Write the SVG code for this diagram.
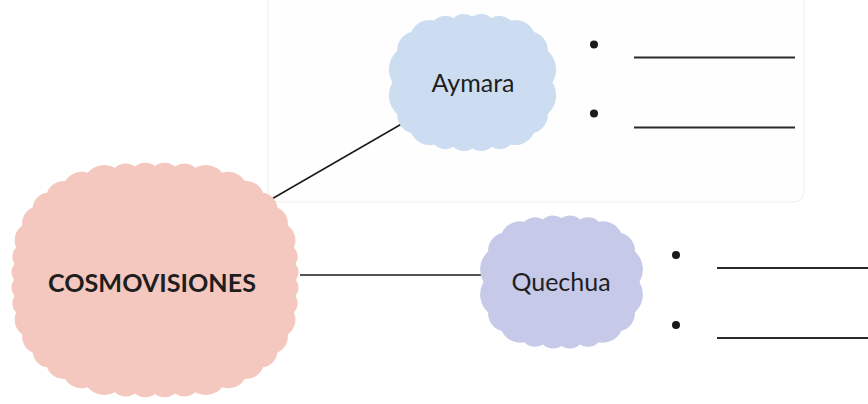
<svg xmlns="http://www.w3.org/2000/svg" width="868" height="404" viewBox="0 0 868 404">
<style>
.conn{stroke:#1a1a1a;stroke-width:1.5;fill:none}
.ul{stroke:#2a2a2a;stroke-width:1.8}
.dot{fill:#1a1a1a}
.lbl{font-family:Lato,"Open Sans",sans-serif;font-size:25px;fill:#1e1e1e;text-anchor:middle}
.main{font-family:Lato,"Open Sans",sans-serif;font-size:25px;font-weight:bold;fill:#1e1e1e;text-anchor:middle}
</style>
<rect x="0" y="0" width="868" height="404" fill="#ffffff"/>
<rect id="frame" x="268" y="-10" width="536" height="212" rx="10" fill="#fefefe" stroke="#f0f0f0" stroke-width="1"/>
<g id="connectors">
<line class="conn" x1="270" y1="200" x2="405" y2="122"/>
<line class="conn" x1="300" y1="275" x2="486" y2="275"/>
</g>
<g id="cosmovisiones">
<path fill="#F4C8BE" d="M296,280 A13,13 0 0 1 295.5,296 A13,13 0 0 1 293.9,312.4 A18,18 0 0 1 287.7,334.4 A17,17 0 0 1 277.3,352.5 A16.5,16.5 0 0 1 263,367.3 A17.5,17.5 0 0 1 244.7,378.9 A19,19 0 0 1 222.3,387.3 A22,22 0 0 1 195.1,392.3 A16,16 0 0 1 175,393.5 A16,16 0 0 1 155,394 A16,16 0 0 1 135,393.5 A16,16 0 0 1 114.9,392.3 A22,22 0 0 1 87.7,387.3 A19,19 0 0 1 65.3,378.9 A17.5,17.5 0 0 1 47,367.3 A16.5,16.5 0 0 1 32.7,352.5 A17,17 0 0 1 22.3,334.4 A18,18 0 0 1 16.1,312.4 A13,13 0 0 1 14.5,296 A13,13 0 0 1 14,280 A13,13 0 0 1 14.5,264 A13,13 0 0 1 16.1,247.6 A18,18 0 0 1 22.3,225.6 A17,17 0 0 1 32.7,207.5 A16.5,16.5 0 0 1 47,192.7 A17.5,17.5 0 0 1 65.3,181.1 A19,19 0 0 1 87.7,172.7 A22,22 0 0 1 114.9,167.7 A16,16 0 0 1 135,166.5 A16,16 0 0 1 155,166 A16,16 0 0 1 175,166.5 A16,16 0 0 1 195.1,167.7 A22,22 0 0 1 222.3,172.7 A19,19 0 0 1 244.7,181.1 A17.5,17.5 0 0 1 263,192.7 A16.5,16.5 0 0 1 277.3,207.5 A17,17 0 0 1 287.7,225.6 A18,18 0 0 1 293.9,247.6 A13,13 0 0 1 295.5,264 A13,13 0 0 1 296,280 Z"/>
<text class="main" x="152" y="292" textLength="208" lengthAdjust="spacingAndGlyphs">COSMOVISIONES</text>
</g>
<g id="aymara">
<path fill="#CDDDF1" d="M552.5,82.5 A25,25 0 0 1 547.8,114 A19,19 0 0 1 533.8,133 A20.5,20.5 0 0 1 510.7,144.6 A15.5,15.5 0 0 1 491.6,146.8 A15.5,15.5 0 0 1 472.5,148.5 A15.5,15.5 0 0 1 453.4,146.8 A15.5,15.5 0 0 1 434.3,144.6 A20.5,20.5 0 0 1 411.2,133 A19,19 0 0 1 397.2,114 A25,25 0 0 1 392.5,82.5 A25,25 0 0 1 397.2,51 A19,19 0 0 1 411.2,32 A20.5,20.5 0 0 1 434.3,20.4 A15.5,15.5 0 0 1 453.4,18.2 A15.5,15.5 0 0 1 472.5,16.5 A15.5,15.5 0 0 1 491.6,18.2 A15.5,15.5 0 0 1 510.7,20.4 A20.5,20.5 0 0 1 533.8,32 A19,19 0 0 1 547.8,51 A25,25 0 0 1 552.5,82.5 Z"/>
<text class="lbl" x="473" y="92">Aymara</text>
</g>
<g id="quechua">
<path fill="#C6C9E8" d="M639.5,282 A24.5,24.5 0 0 1 634.9,312.5 A18.5,18.5 0 0 1 621.2,331 A20,20 0 0 1 598.7,342.2 A15,15 0 0 1 580,344.5 A15,15 0 0 1 561.5,346 A15,15 0 0 1 542.9,344.5 A15,15 0 0 1 524.3,342.2 A20,20 0 0 1 501.8,331 A18.5,18.5 0 0 1 488.1,312.5 A24.5,24.5 0 0 1 483.5,282 A24.5,24.5 0 0 1 488.1,251.5 A18.5,18.5 0 0 1 501.8,233 A20,20 0 0 1 524.3,221.8 A15,15 0 0 1 542.9,219.5 A15,15 0 0 1 561.5,218 A15,15 0 0 1 580,219.5 A15,15 0 0 1 598.7,221.8 A20,20 0 0 1 621.2,233 A18.5,18.5 0 0 1 634.9,251.5 A24.5,24.5 0 0 1 639.5,282 Z"/>
<text class="lbl" x="561" y="291">Quechua</text>
</g>
<g id="aymara-items">
<circle class="dot" cx="594" cy="44.5" r="4"/>
<line class="ul" x1="634" y1="57.5" x2="795" y2="57.5"/>
<circle class="dot" cx="594" cy="113.5" r="4"/>
<line class="ul" x1="634" y1="127.5" x2="795" y2="127.5"/>
</g>
<g id="quechua-items">
<circle class="dot" cx="676" cy="255" r="4"/>
<line class="ul" x1="717" y1="268" x2="868" y2="268"/>
<circle class="dot" cx="676" cy="325" r="4"/>
<line class="ul" x1="717" y1="338" x2="868" y2="338"/>
</g>
</svg>
